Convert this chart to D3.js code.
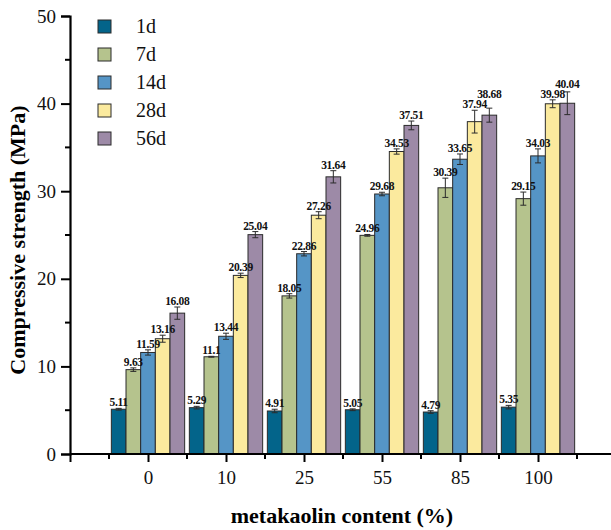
<!DOCTYPE html>
<html>
<head>
<meta charset="utf-8">
<script src="https://cdn.jsdelivr.net/npm/d3@7"></script>
<style>
    html, body { margin: 0; padding: 0; background: #fff; }
    svg { display: block; }
</style>
</head>
<body>
<div id="chart"></div>
<script>
// metakaolin content categories (%)
const categories = ['0', '10', '25', '55', '85', '100'];
const ages = ['1d', '7d', '14d', '28d', '56d'];
const colors = ['#03648a', '#b5c38d', '#5595c6', '#fbea9e', '#9d8aa7'];

// compressive strength (MPa), one array per curing age
const s1d = [5.11, 5.29, 4.91, 5.05, 4.79, 5.35];
const s7d = [9.63, 11.1, 18.05, 24.96, 30.39, 29.15];
const s14d = [11.59, 13.44, 22.86, 29.68, 33.65, 34.03];
const s28d = [13.16, 20.39, 27.26, 34.53, 37.94, 39.98];
const s56d = [16.08, 25.04, 31.64, 37.51, 38.68, 40.04];

// error bars (±)
const e1d = [0.1, 0.15, 0.2, 0.1, 0.15, 0.2];
const e7d = [0.2, 0.05, 0.25, 0.1, 1.1, 0.75];
const e14d = [0.3, 0.35, 0.25, 0.2, 0.6, 0.8];
const e28d = [0.4, 0.25, 0.4, 0.3, 1.3, 0.45];
const e56d = [0.7, 0.35, 0.7, 0.5, 0.8, 1.3];

const yTicks = [0, 10, 20, 30, 40, 50];

const values = [s1d, s7d, s14d, s28d, s56d];
const errors = [e1d, e7d, e14d, e28d, e56d];

const width = 611;
const height = 530;
const font = '"Liberation Serif", "Times New Roman", serif';

const svg = d3.select('#chart').append('svg')
    .attr('width', width)
    .attr('height', height)
    .style('font-family', font);

// x: category positions 1..6 on a 0..7 axis
const x = d3.scaleLinear().domain([0, 7]).range([70, 616]);
const y = d3.scaleLinear().domain([0, 50]).range([454, 16]);

const unit = x(1) - x(0);
const groupW = unit * 0.94;
const barW = groupW / ages.length;

// bars
const rows = [];
categories.forEach((c, i) => {
    ages.forEach((a, j) => {
        rows.push({ cat: i, age: j, v: values[j][i], e: errors[j][i] });
    });
});

const barX = d => x(d.cat + 1) - groupW / 2 + d.age * barW;

const gBars = svg.append('g');
gBars.selectAll('rect')
    .data(rows)
    .enter().append('rect')
    .attr('x', d => barX(d))
    .attr('y', d => y(d.v))
    .attr('width', barW)
    .attr('height', d => y(0) - y(d.v))
    .attr('fill', d => colors[d.age])
    .attr('stroke', '#2b2b2b')
    .attr('stroke-width', 1);

// error bars
const gErr = svg.append('g')
    .attr('stroke', '#2b2b2b')
    .attr('stroke-width', 1);

rows.forEach(d => {
    const cx = barX(d) + barW / 2;
    const top = y(d.v + d.e);
    const bot = y(d.v - d.e);
    gErr.append('line').attr('x1', cx).attr('x2', cx).attr('y1', top).attr('y2', bot);
    gErr.append('line').attr('x1', cx - 3).attr('x2', cx + 3).attr('y1', top).attr('y2', top);
    gErr.append('line').attr('x1', cx - 3).attr('x2', cx + 3).attr('y1', bot).attr('y2', bot);
});

// value labels, nudged up when they run into the neighbour on the left
rows.forEach(d => { d.ly = y(d.v + d.e) - 2; });
rows.forEach((d, k) => {
    if (d.age === 0) return;
    const prev = rows[k - 1];
    if (prev.ly - d.ly < 10 && d.ly - prev.ly < 10 && Math.min(d.v, prev.v) > 30) {
        d.ly = Math.min(d.ly, prev.ly - 10);
    }
});

svg.append('g')
    .selectAll('text')
    .data(rows)
    .enter().append('text')
    .attr('x', d => barX(d) + barW / 2)
    .attr('y', d => d.ly)
    .attr('text-anchor', 'middle')
    .attr('font-size', 11.5)
    .attr('font-weight', 'bold')
    .attr('letter-spacing', -0.3)
    .attr('fill', '#111')
    .text(d => d.v);

// y axis
const yAxis = d3.axisLeft(y)
    .tickValues(yTicks)
    .tickSize(9)
    .tickPadding(5)
    .tickFormat(d3.format('d'));

const gy = svg.append('g')
    .attr('transform', `translate(${x(0)},0)`)
    .call(yAxis);

gy.append('g')
    .selectAll('line')
    .data(d3.range(5, 50, 10))
    .enter().append('line')
    .attr('x1', -5).attr('x2', 0)
    .attr('y1', d => y(d)).attr('y2', d => y(d))
    .attr('stroke', '#000')
    .attr('stroke-width', 2);

// x axis
const xAxis = d3.axisBottom(x)
    .tickValues(d3.range(0, 7))
    .tickSize(8)
    .tickPadding(9)
    .tickFormat(d => d === 0 ? '' : categories[d - 1]);

const gx = svg.append('g')
    .attr('transform', `translate(0,${y(0)})`)
    .call(xAxis);

gx.append('g')
    .selectAll('line')
    .data(d3.range(0.5, 7, 1))
    .enter().append('line')
    .attr('x1', d => x(d)).attr('x2', d => x(d))
    .attr('y1', 0).attr('y2', 5)
    .attr('stroke', '#000')
    .attr('stroke-width', 2);

[gx, gy].forEach(g => {
    g.select('.domain').attr('stroke', '#000').attr('stroke-width', 2.2);
    g.selectAll('.tick line').attr('stroke', '#000').attr('stroke-width', 2);
    g.selectAll('.tick text')
        .attr('font-family', font)
        .attr('font-size', 19)
        .attr('fill', '#111');
});
gx.select('.domain').attr('d', `M${x(0)},0H${width}`);

// axis titles
svg.append('text')
    .attr('x', 342)
    .attr('y', 523)
    .attr('text-anchor', 'middle')
    .attr('font-size', 22)
    .attr('font-weight', 'bold')
    .text('metakaolin content (%)');

svg.append('text')
    .attr('transform', 'translate(25,240) rotate(-90)')
    .attr('text-anchor', 'middle')
    .attr('font-size', 22)
    .attr('font-weight', 'bold')
    .text('Compressive strength (MPa)');

// legend
const legend = svg.append('g')
    .attr('transform', 'translate(98,20)');

const item = legend.selectAll('g')
    .data(ages)
    .enter().append('g')
    .attr('transform', (d, i) => `translate(0,${i * 28})`);

item.append('rect')
    .attr('width', 13)
    .attr('height', 13)
    .attr('fill', (d, i) => colors[i])
    .attr('stroke', '#2b2b2b')
    .attr('stroke-width', 1);

item.append('text')
    .attr('x', 38)
    .attr('y', 13)
    .attr('font-size', 20)
    .attr('fill', '#111')
    .text(d => d);
</script>
</body>
</html>
